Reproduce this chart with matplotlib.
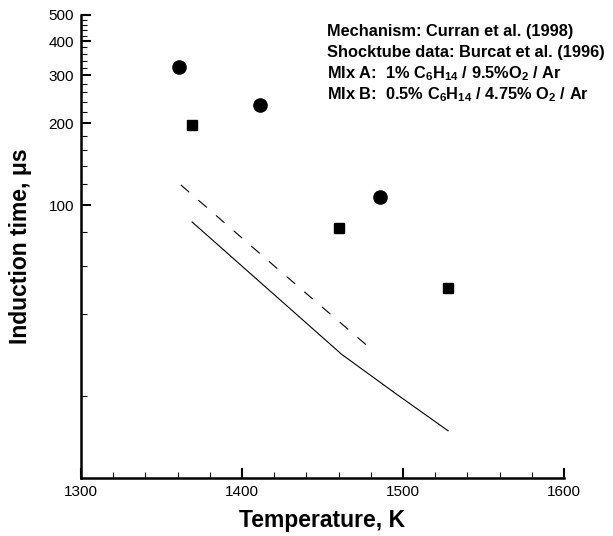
import matplotlib
matplotlib.use('Agg')
import matplotlib.pyplot as plt
from matplotlib.ticker import FixedLocator, NullFormatter, FixedFormatter

plt.rcParams['font.family'] = ['Liberation Sans', 'DejaVu Sans']
plt.rcParams['mathtext.fontset'] = 'custom'
plt.rcParams['mathtext.rm'] = 'Liberation Sans:bold'
plt.rcParams['mathtext.default'] = 'rm'

# shocktube data (Burcat et al. 1996)
mix_a_temp = [1361, 1411, 1486]
mix_a_tau = [322, 233, 107]
mix_b_temp = [1369, 1460, 1528]
mix_b_tau = [197, 83, 50]

# model (Curran et al. 1998)
model_a_temp = [1362, 1420, 1480]
model_a_tau = [119, 60, 29.8]
model_b_temp = [1369, 1415, 1462, 1495, 1528]
model_b_tau = [87, 50, 28.4, 20.5, 14.9]

y_major = [100, 200, 300, 400, 500]
y_minor = [v for v in range(20, 500, 20) if v not in y_major]
x_major = [1300, 1400, 1500, 1600]
x_minor = [v for v in range(1300, 1601, 20) if v not in x_major]

fig = plt.figure(figsize=(6.13, 5.36), dpi=100)
ax = fig.add_axes([81 / 613, 1 - 478 / 536, (564 - 81) / 613, (478 - 15) / 536])

ax.plot(model_a_temp, model_a_tau, color='black', lw=0.8, dashes=(10, 11))
ax.plot(model_b_temp, model_b_tau, color='black', lw=0.8)
ax.plot(mix_a_temp, mix_a_tau, 'o', color='black', ms=9.5, ls='none')
ax.plot(mix_b_temp, mix_b_tau, 's', color='black', ms=7.3, ls='none')

ax.set_yscale('log')
ax.set_xlim(1300, 1600)
ax.set_ylim(10, 500)

ax.yaxis.set_major_locator(FixedLocator(y_major))
ax.yaxis.set_major_formatter(FixedFormatter([str(v) for v in y_major]))
ax.yaxis.set_minor_locator(FixedLocator(y_minor))
ax.yaxis.set_minor_formatter(NullFormatter())
ax.xaxis.set_major_locator(FixedLocator(x_major))
ax.xaxis.set_minor_locator(FixedLocator(x_minor))

for side in ['top', 'right']:
    ax.spines[side].set_visible(False)
for side in ['left', 'bottom']:
    ax.spines[side].set_linewidth(1.8)

ax.tick_params(which='major', direction='in', length=7.5, width=1.5, labelsize=11, pad=5)
ax.tick_params(which='minor', direction='in', length=4, width=0.8)

ax.set_xlabel('Temperature, K', fontsize=16.5, fontweight='bold', labelpad=7)
ax.set_ylabel('Induction time, μs', fontsize=16.5, fontweight='bold', labelpad=12)

lines = [
    'Mechanism: Curran et al. (1998)',
    'Shocktube data: Burcat et al. (1996)',
    'MIx A:  1% C$_6$H$_{14}$ / 9.5%O$_2$ / Ar',
    'MIx B:  0.5% C$_6$H$_{14}$ / 4.75% O$_2$ / Ar',
]
for i, s in enumerate(lines):
    fig.text(327 / 613, 1 - (36 + 21 * i) / 536, s, fontsize=11.8,
             fontweight='bold', ha='left', va='baseline')

fig.savefig('out.png', dpi=100)
